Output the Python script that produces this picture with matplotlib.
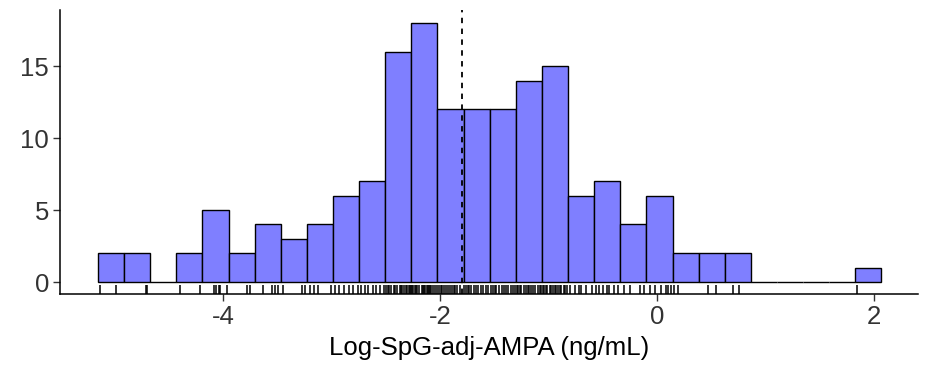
import numpy as np
import matplotlib
matplotlib.use('Agg')
import matplotlib.pyplot as plt

# ------------------------------- data ------------------------------- #
# individual observations (read off the rug), log scale ng/mL
obs_low = [-5.13, -4.99, -4.71, -4.70, -4.40, -4.21,
           -4.08, -4.06, -4.04, -4.03, -3.96, -3.78, -3.75,
           -3.63, -3.55, -3.52, -3.49, -3.45, -3.27, -3.24,
           -3.20, -3.16, -3.12, -3.00,
           -2.97, -2.93, -2.88, -2.84, -2.80, -2.76,
           -2.73, -2.69, -2.66, -2.62, -2.59, -2.55, -2.52]
obs_mid = [-2.50, -2.48, -2.47, -2.45, -2.42, -2.41, -2.40, -2.37,
           -2.36, -2.35, -2.33, -2.31, -2.30, -2.29, -2.28, -2.27,
           -2.26, -2.25, -2.23, -2.22, -2.21, -2.19, -2.17, -2.16, -2.15,
           -2.14, -2.12, -2.11, -2.10, -2.09, -2.08, -2.06, -2.05, -2.03,
           -2.01, -1.99, -1.98, -1.96, -1.94, -1.93, -1.91, -1.89, -1.87,
           -1.86, -1.84, -1.815,
           -1.778, -1.76, -1.74, -1.73, -1.71, -1.69, -1.67, -1.65, -1.62,
           -1.60, -1.58, -1.56,
           -1.53, -1.51, -1.49, -1.48, -1.46, -1.43, -1.41, -1.39, -1.37,
           -1.35, -1.33, -1.31]
obs_high = [-1.29, -1.28, -1.26, -1.25, -1.23, -1.21, -1.19, -1.18, -1.16,
            -1.14, -1.12, -1.10, -1.08, -1.07,
            -1.05, -1.04, -1.02, -1.01, -0.99, -0.98, -0.96, -0.94, -0.93,
            -0.91, -0.89, -0.88, -0.86, -0.85, -0.83,
            -0.80, -0.76, -0.72, -0.70, -0.65, -0.60,
            -0.56, -0.53, -0.50, -0.46, -0.44, -0.40, -0.36,
            -0.30, -0.25, -0.16, -0.12,
            -0.06, -0.02, 0.04, 0.08, 0.10, 0.13,
            0.16, 0.19, 0.47, 0.54, 0.70, 0.76, 1.84]
values = np.array(obs_low + obs_mid + obs_high)

bin_lo, bin_hi, n_bins = -5.152, 2.069, 30
xlabel = 'Log-SpG-adj-AMPA (ng/mL)'

# ------------------------------- plot ------------------------------- #
plt.rcParams['font.family'] = ['Liberation Sans', 'DejaVu Sans']
plt.rcParams['axes.unicode_minus'] = False

fig = plt.figure(figsize=(9.26, 3.69), dpi=100)
ax = fig.add_axes([0.0648, 0.2033, 0.9266, 0.7696])

edges = np.linspace(bin_lo, bin_hi, n_bins + 1)
ax.hist(values, bins=edges, color='#7F7FFF', edgecolor='black',
        linewidth=1.0, zorder=2)
ax.vlines(values, 0, 0.03, transform=ax.get_xaxis_transform(),
          color='black', linewidth=1.1, zorder=3)
ax.axvline(np.median(values), color='black', linestyle=(0, (3, 3)),
           linewidth=1.3, zorder=4)

ax.set_xlim(-5.502, 2.406)
ax.set_ylim(-0.83, 18.9)
ax.set_xticks([-4, -2, 0, 2])
ax.set_yticks([0, 5, 10, 15])

for side in ['top', 'right']:
    ax.spines[side].set_visible(False)
for side in ['left', 'bottom']:
    ax.spines[side].set_linewidth(1.1)
    ax.spines[side].set_color('black')
ax.tick_params(axis='both', length=5, width=1.0, color='#333333',
               labelsize=18.5, labelcolor='#333333', pad=3)
ax.set_xlabel(xlabel, fontsize=18.5, color='black', labelpad=5)

plt.savefig('out.png', dpi=100)
plt.close()
